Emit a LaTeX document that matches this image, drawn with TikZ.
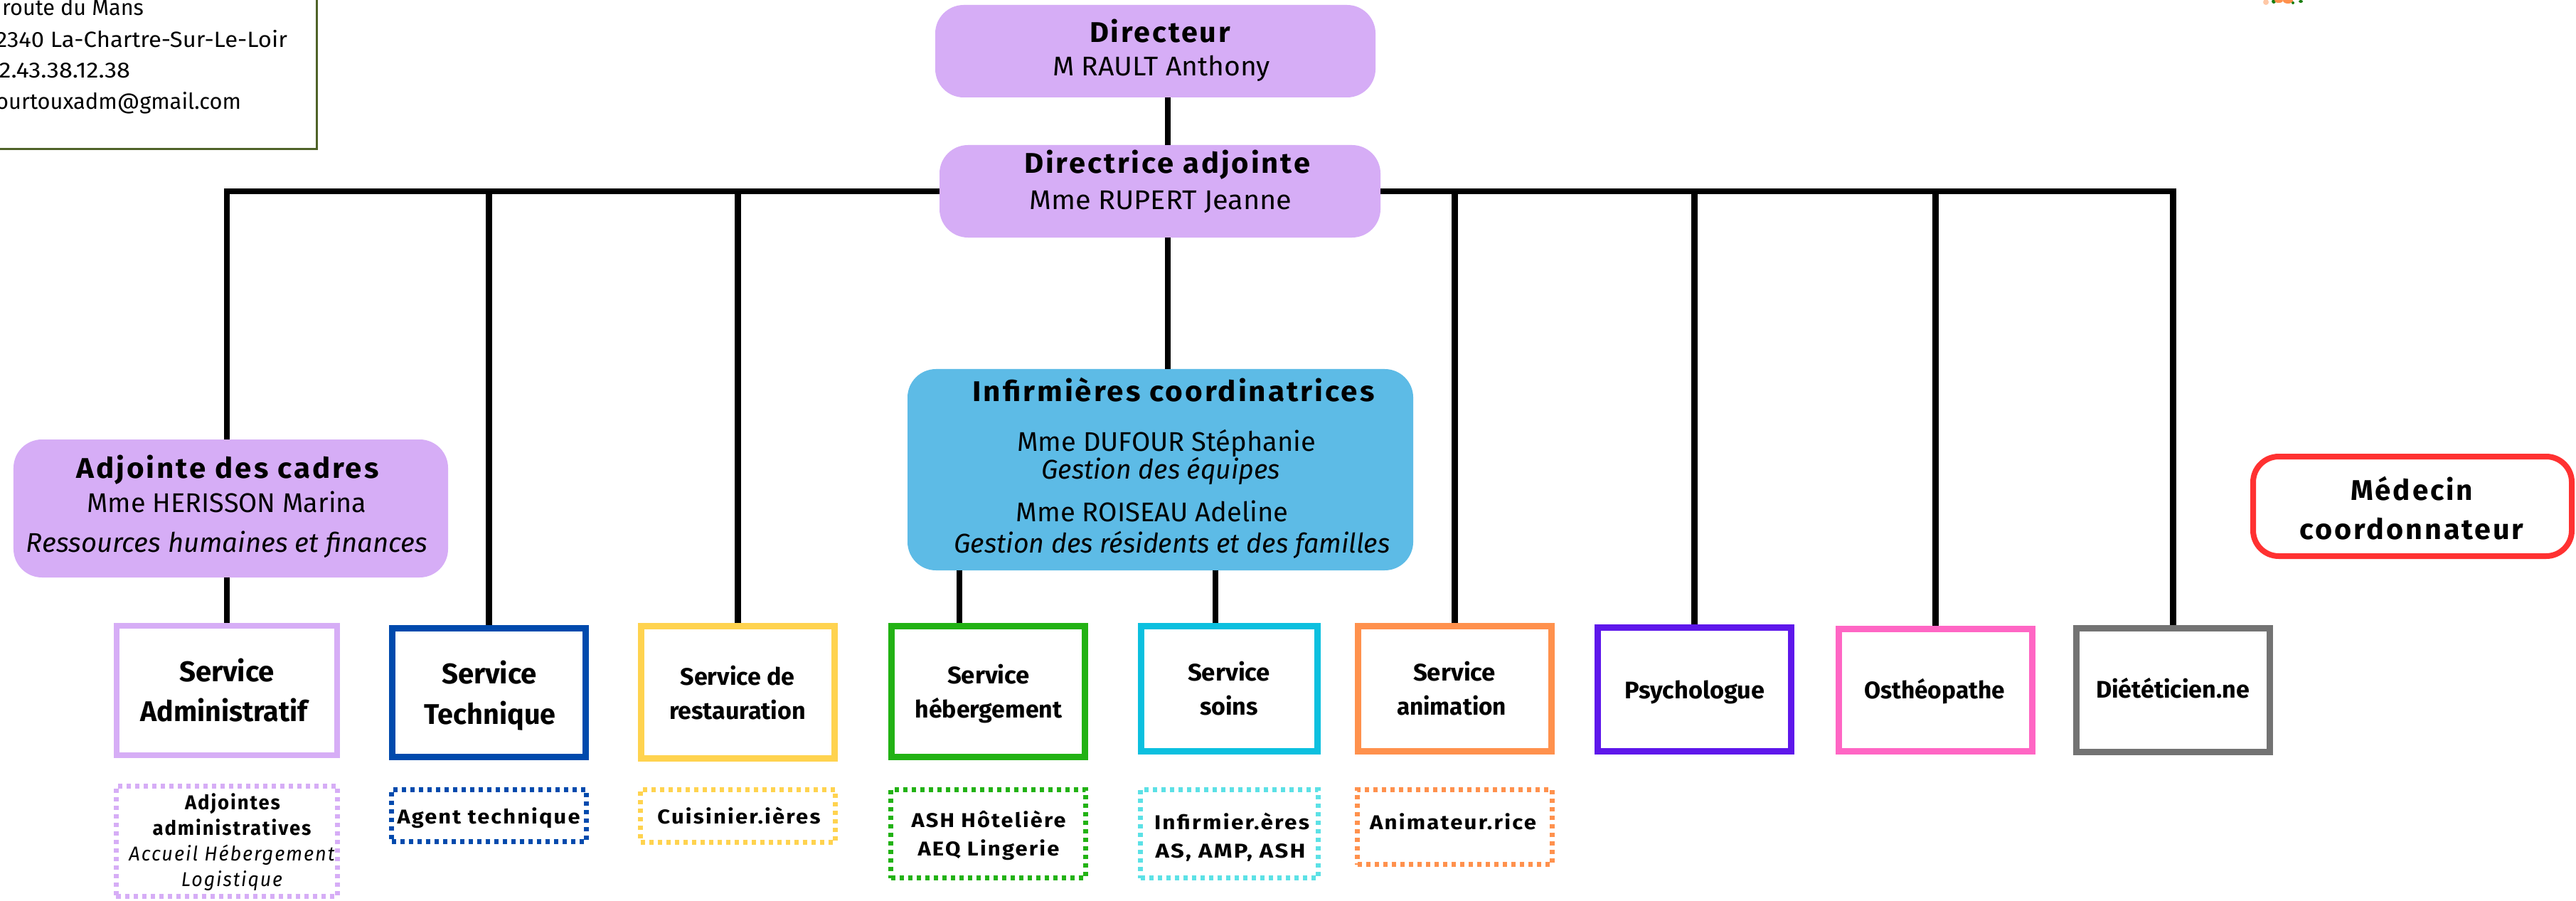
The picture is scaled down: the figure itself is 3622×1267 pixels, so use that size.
\documentclass[tikz,border=0pt]{standalone}
\usepackage{graphicx}
\usepackage{fontspec}
\setmainfont{Fira Sans}
\newfontfamily\spaced[LetterSpace=7]{Fira Sans}
\definecolor{mauve}{HTML}{D6ADF6}
\definecolor{sky}{HTML}{5DBBE6}
\definecolor{olive}{HTML}{4F6228}
\definecolor{navy}{HTML}{004AAD}
\definecolor{sun}{HTML}{FFD34F}
\definecolor{leaf}{HTML}{22B214}
\definecolor{aqua}{HTML}{0CC0DF}
\definecolor{aqualight}{HTML}{5CE1E6}
\definecolor{tang}{HTML}{FF914D}
\definecolor{violet}{HTML}{5E17EB}
\definecolor{rose}{HTML}{FF66C4}
\definecolor{steel}{HTML}{737373}
\definecolor{scarlet}{HTML}{FF3131}
\tikzset{
  pill/.style={draw=none,fill=#1,rounded corners=0.4cm},
  svc/.style={draw=#1,fill=white},
  dotbox/.style={draw=#1,dash pattern=on 0.065cm off 0.055cm},
  wire/.style={draw=black,line width=0.085cm,line join=miter},
  lab/.style={inner sep=0pt,outer sep=0pt,anchor=base,text=black},
  labw/.style={inner sep=0pt,outer sep=0pt,anchor=base west,text=black}
}
% name, style, border px, x1, y1, x2, y2 (outer edges in px)
\newcommand\bx[7]{%
  \pgfmathsetmacro\bxw{(#6-#4-#3)*0.01}%
  \pgfmathsetmacro\bxh{(#7-#5-#3)*0.01}%
  \node[#2,line width=#3*0.01cm,minimum width=\bxw cm,minimum height=\bxh cm,inner sep=0pt] (#1) at ({(#4+#6)/2},{(#5+#7)/2}) {};}
% name, centre x, baseline y, font, width px, text
\newcommand\tx[6]{%
  \pgfmathsetmacro\txw{#5*0.01}%
  \node[lab] (#1) at (#2,#3) {\resizebox{\txw cm}{\height}{#4#6}};}
\newcommand\txl[6]{%
  \pgfmathsetmacro\txw{#5*0.01}%
  \node[labw] (#1) at (#2,#3) {\resizebox{\txw cm}{\height}{#4#6}};}
\newcommand\fTit{\spaced\bfseries\fontsize{11.4}{14}\selectfont}
\newcommand\fName{\normalfont\fontsize{10.8}{13}\selectfont}
\newcommand\fIt{\normalfont\itshape\fontsize{10.8}{13}\selectfont}
\newcommand\fSvcA{\normalfont\bfseries\fontsize{11.4}{14}\selectfont}
\newcommand\fSvc{\normalfont\bfseries\fontsize{9.6}{12}\selectfont}
\newcommand\fSub{\spaced\bfseries\fontsize{8}{10}\selectfont}
\newcommand\fSubIt{\spaced\itshape\fontsize{8}{10}\selectfont}
\newcommand\fAddr{\normalfont\fontsize{8.8}{11}\selectfont}
\begin{document}
\begin{tikzpicture}[x=0.01cm,y=-0.01cm]
\path[use as bounding box,clip] (0,0) rectangle (3622,1267);
\fill[white] (0,0) rectangle (3622,1267);
% address
\bx{addr}{draw=olive,fill=white}{3}{-40}{-40}{447}{211}
\txl{addrA}{-20}{22}{\fAddr}{222}{2 route du Mans}
\txl{addrB}{-20}{67}{\fAddr}{424}{72340 La-Chartre-Sur-Le-Loir}
\txl{addrC}{-20}{110}{\fAddr}{203}{02.43.38.12.38}
\txl{addrD}{-20}{154}{\fAddr}{359}{courtouxadm@gmail.com}
% decoration top right
\fill[tang!50!white] (3186,3) ellipse (4 and 4);
\fill[leaf!70!black] (3197,2) ellipse (3 and 3);
\fill[tang] (3204,1) ellipse (6 and 3);
\fill[tang] (3217,1) ellipse (7 and 4);
\fill[leaf!70!black] (3224,4) ellipse (2 and 2);
\fill[leaf!70!black] (3235,2) ellipse (3 and 2);
% boxes
\bx{dir}{pill=mauve}{0}{1315}{7}{1934}{137}
\bx{dira}{pill=mauve}{0}{1321}{204}{1941}{334}
\bx{adj}{pill=mauve}{0}{19}{618}{630}{812}
\bx{inf}{pill=sky}{0}{1276}{519}{1987}{802}
\bx{med}{svc=scarlet,rounded corners=0.36cm}{8}{3164}{638}{3620}{786}
\bx{sadm}{svc=mauve}{8}{160}{876}{478}{1066}
\bx{stec}{svc=navy}{9}{547}{879}{828}{1069}
\bx{sres}{svc=sun}{9}{897}{876}{1178}{1071}
\bx{sheb}{svc=leaf}{9}{1249}{876}{1530}{1069}
\bx{ssoi}{svc=aqua}{9}{1600}{876}{1857}{1061}
\bx{sani}{svc=tang}{9}{1905}{876}{2186}{1061}
\bx{spsy}{svc=violet}{9}{2242}{878}{2523}{1061}
\bx{sost}{svc=rose}{9}{2581}{880}{2862}{1061}
\bx{sdie}{svc=steel}{9}{2915}{879}{3196}{1062}
\bx{dadm}{dotbox=mauve}{7}{160}{1102}{478}{1264}
\bx{dtec}{dotbox=navy}{7}{547}{1107}{828}{1187}
\bx{dres}{dotbox=sun}{7}{897}{1107}{1178}{1188}
\bx{dheb}{dotbox=leaf}{7}{1249}{1107}{1530}{1238}
\bx{dsoi}{dotbox=aqualight}{7}{1600}{1107}{1857}{1238}
\bx{dani}{dotbox=tang}{7}{1905}{1107}{2186}{1219}
% connectors
\coordinate (busL) at (319,269);
\coordinate (busR) at (3055.5,269);
\coordinate (spine) at (1642,269);
\coordinate (hebx) at (1349,802);
\coordinate (soix) at (1709,802);
\draw[wire] (dir.south -| spine) -- (dira.north -| spine);
\draw[wire] (dira.south -| spine) -- (inf.north -| spine);
\draw[wire] (adj.north -| busL) -- (busL) -- (dira.west);
\draw[wire] (dira.east) -- (busR) -- (sdie.north -| busR);
\draw[wire] (adj.south -| busL) -- (sadm.north -| busL);
\draw[wire] (stec.north |- busL) -- (stec.north);
\draw[wire] (sres.north |- busL) -- (sres.north);
\draw[wire] (sani.north |- busL) -- (sani.north);
\draw[wire] (spsy.north |- busL) -- (spsy.north);
\draw[wire] (sost.north |- busL) -- (sost.north);
\draw[wire] (inf.south -| hebx) -- (sheb.north -| hebx);
\draw[wire] (inf.south -| soix) -- (ssoi.north -| soix);
% texts
\tx{dirT}{1631}{60}{\fTit}{198}{Directeur}
\tx{dirN}{1633}{107}{\fName}{306}{M RAULT Anthony}
\tx{diraT}{1641}{244}{\fTit}{402}{Directrice adjointe}
\tx{diraN}{1632}{295}{\fName}{369}{Mme RUPERT Jeanne}
\tx{adjT}{320}{672}{\fTit}{425}{Adjointe des cadres}
\tx{adjN}{319}{720}{\fName}{393}{Mme HERISSON Marina}
\tx{adjI}{319}{776}{\fIt}{564}{Ressources humaines et finances}
\tx{infT}{1650}{564}{\fTit}{565}{Infirmières coordinatrices}
\tx{infA}{1640}{634}{\fName}{420}{Mme DUFOUR Stéphanie}
\tx{infB}{1632}{673}{\fIt}{335}{Gestion des équipes}
\tx{infC}{1620}{733}{\fName}{383}{Mme ROISEAU Adeline}
\tx{infD}{1648}{777}{\fIt}{613}{Gestion des résidents et des familles}
\tx{medA}{3391}{703}{\fTit}{172}{Médecin}
\tx{medB}{3391}{758}{\fTit}{315}{coordonnateur}
\tx{sadmA}{319}{958}{\fSvcA}{134}{Service}
\tx{sadmB}{315}{1014}{\fSvcA}{235}{Administratif}
\tx{stecA}{688}{961}{\fSvcA}{134}{Service}
\tx{stecB}{689}{1018}{\fSvcA}{185}{Technique}
\tx{sresA}{1037}{963}{\fSvc}{161}{Service de}
\tx{sresB}{1037}{1011}{\fSvc}{192}{restauration}
\tx{shebA}{1390}{961}{\fSvc}{116}{Service}
\tx{shebB}{1390}{1009}{\fSvc}{207}{hébergement}
\tx{ssoiA}{1728}{957}{\fSvc}{116}{Service}
\tx{ssoiB}{1728}{1005}{\fSvc}{82}{soins}
\tx{saniA}{2045}{957}{\fSvc}{116}{Service}
\tx{saniB}{2041}{1005}{\fSvc}{154}{animation}
\tx{spsyA}{2383}{982}{\fSvc}{197}{Psychologue}
\tx{sostA}{2720}{982}{\fSvc}{198}{Osthéopathe}
\tx{sdieA}{3055}{981}{\fSvc}{216}{Diététicien.ne}
\tx{dadmA}{327}{1138}{\fSub}{134}{Adjointes}
\tx{dadmB}{326}{1174}{\fSub}{223}{administratives}
\tx{dadmC}{326}{1210}{\fSubIt}{289}{Accueil Hébergement}
\tx{dadmD}{326}{1246}{\fSubIt}{142}{Logistique}
\tx{dtecA}{687}{1158}{\fSub}{257}{Agent technique}
\tx{dresA}{1039}{1158}{\fSub}{229}{Cuisinier.ières}
\tx{dhebA}{1390}{1163}{\fSub}{217}{ASH Hôtelière}
\tx{dhebB}{1390}{1203}{\fSub}{199}{AEQ Lingerie}
\tx{dsoiA}{1732}{1166}{\fSub}{218}{Infirmier.ères}
\tx{dsoiB}{1730}{1206}{\fSub}{211}{AS, AMP, ASH}
\tx{daniA}{2043}{1166}{\fSub}{234}{Animateur.rice}
\end{tikzpicture}
\end{document}
